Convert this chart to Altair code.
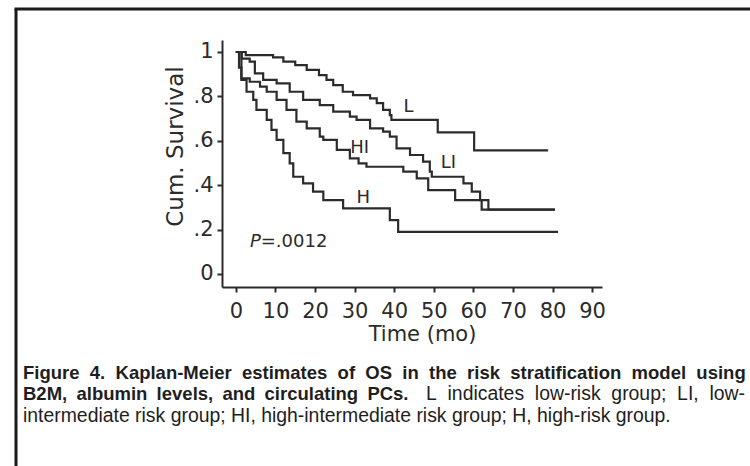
import altair as alt
import pandas as pd

# Kaplan-Meier step curves: event times (months) and cumulative survival
groups = ["L", "LI", "HI", "H"]

l_time = [0, 2.5, 9.4, 12.0, 15.0, 17.9, 21.0, 22.9, 24.6, 27.0, 29.6, 33.9, 35.6, 37.2, 38.9, 39.3, 51.0, 60.2, 78.9]
l_surv = [1.0, 0.986, 0.976, 0.957, 0.941, 0.919, 0.896, 0.874, 0.851, 0.821, 0.806, 0.791, 0.77, 0.739, 0.716, 0.694, 0.638, 0.557, 0.557]

li_time = [0, 1.5, 3.5, 4.8, 6.9, 10.3, 13.6, 17.0, 21.2, 24.6, 28.8, 30.5, 33.9, 37.2, 38.9, 40.6, 44.0, 47.3, 49.0, 49.5, 57.5, 59.6, 61.7, 63.8, 80.6]
li_surv = [1.0, 0.97, 0.957, 0.904, 0.874, 0.859, 0.821, 0.784, 0.761, 0.731, 0.709, 0.694, 0.656, 0.641, 0.619, 0.566, 0.536, 0.506, 0.461, 0.438, 0.408, 0.371, 0.333, 0.29, 0.29]

hi_time = [0, 0.8, 1.4, 3.5, 6.1, 7.8, 10.3, 12.8, 15.3, 17.9, 21.2, 22.1, 25.5, 28.8, 31.0, 33.0, 42.3, 45.7, 48.6, 55.4, 62.1, 80.6]
hi_surv = [1.0, 0.93, 0.881, 0.866, 0.844, 0.821, 0.784, 0.739, 0.686, 0.656, 0.619, 0.604, 0.559, 0.521, 0.498, 0.483, 0.461, 0.431, 0.378, 0.333, 0.29, 0.29]

h_time = [0, 1.4, 2.7, 4.4, 5.2, 7.8, 9.0, 10.3, 12.0, 13.6, 14.5, 17.0, 19.5, 22.1, 27.1, 38.9, 41.0, 81.4]
h_surv = [1.0, 0.874, 0.821, 0.784, 0.739, 0.694, 0.649, 0.604, 0.544, 0.498, 0.438, 0.408, 0.371, 0.333, 0.296, 0.243, 0.19, 0.19]

# Curve name annotations (data coordinates)
label_text = ["L", "HI", "LI", "H"]
label_x = [43.6, 31.3, 53.7, 32.2]
label_y = [0.751, 0.566, 0.499, 0.341]

p_value = ".0012"

x_ticks = list(range(0, 95, 5))
y_ticks = [0, 0.1, 0.2, 0.3, 0.4, 0.5, 0.6, 0.7, 0.8, 0.9, 1.0]

caption_line1 = "Figure 4. Kaplan-Meier estimates of OS in the risk stratification model using"
caption_line2_bold = "B2M, albumin levels, and circulating PCs."
caption_line2_rest = "L indicates low-risk group; LI, low-"
caption_line3 = "intermediate risk group; HI, high-intermediate risk group; H, high-risk group."

rows = []
for g, ts, ss in zip(groups, [l_time, li_time, hi_time, h_time], [l_surv, li_surv, hi_surv, h_surv]):
    for t, s in zip(ts, ss):
        rows.append({"group": g, "time": t, "surv": s})
curves = pd.DataFrame(rows)
labels = pd.DataFrame({"text": label_text, "x": label_x, "y": label_y})

AX_FONT = "DejaVu Sans"
INK = "#2b2b2b"
CAP_FONT = "Liberation Sans, Arial, sans-serif"

x_scale = alt.Scale(domain=[-3.5, 92.5], nice=False, zero=False)
y_scale = alt.Scale(domain=[-0.0586, 1.054], nice=False, zero=False)

x_axis = alt.Axis(
    values=x_ticks,
    labelExpr="datum.value % 10 == 0 ? datum.value : ''",
    tickSize={"condition": {"test": "datum.value % 10 == 0", "value": 5}, "value": 3},
    tickWidth=2, tickColor=INK, domainColor=INK, domainWidth=2,
    labelFont=AX_FONT, labelFontSize=21, labelColor=INK, labelPadding=8,
    labelFlush=False, labelOverlap=False, grid=False,
    title="Time (mo)", titleFont=AX_FONT, titleFontSize=21, titleFontWeight="normal",
    titleColor=INK, titleX=200, titleY=53, titleBaseline="alphabetic", titleAnchor="middle",
)
y_axis = alt.Axis(
    values=y_ticks,
    labelExpr="datum.value == 0 ? '0' : (datum.value > 0.99 ? '1' : (round(datum.value * 10) % 2 == 0 ? '.' + round(datum.value * 10) : ''))",
    tickSize={"condition": {"test": "round(datum.value * 10) % 2 == 0", "value": 5}, "value": 3},
    tickWidth=2, tickColor=INK, domainColor=INK, domainWidth=2,
    labelFont=AX_FONT, labelFontSize=21, labelColor=INK, labelPadding=4,
    labelFlush=False, labelOverlap=False, grid=False,
    title="Cum. Survival", titleFont=AX_FONT, titleFontSize=23, titleFontWeight="normal",
    titleColor=INK, titleX=-47, titleY=106, titleAngle=-90, titleBaseline="middle", titleAlign="center",
)

lines = alt.Chart(curves).mark_line(
    interpolate="step-after", color=INK, strokeWidth=2.2
).encode(
    x=alt.X("time:Q", scale=x_scale, axis=x_axis),
    y=alt.Y("surv:Q", scale=y_scale, axis=y_axis),
    detail="group:N",
)

curve_labels = alt.Chart(labels).mark_text(
    font=AX_FONT, fontSize=18, color=INK, align="center", baseline="middle"
).encode(
    x=alt.X("x:Q", scale=x_scale), y=alt.Y("y:Q", scale=y_scale), text="text:N"
)

p_df = pd.DataFrame({"x": [6.3], "y": [0.123], "p": ["P"], "v": ["=" + p_value]})
p_italic = alt.Chart(p_df).mark_text(
    font=AX_FONT, fontSize=18, fontStyle="italic", color=INK, align="right", baseline="alphabetic"
).encode(x=alt.X("x:Q", scale=x_scale), y=alt.Y("y:Q", scale=y_scale), text="p:N")
p_rest = alt.Chart(p_df).mark_text(
    font=AX_FONT, fontSize=18, color=INK, align="left", baseline="alphabetic"
).encode(x=alt.X("x:Q", scale=x_scale), y=alt.Y("y:Q", scale=y_scale), text="v:N")

# Figure frame (left and top edges), placed relative to the plot origin
frame_v = alt.Chart(p_df).mark_rule(color="#1a1a1a", strokeWidth=3).encode(
    x=alt.value(-206), y=alt.value(-31), y2=alt.value(500))
frame_h = alt.Chart(p_df).mark_rule(color="#1a1a1a", strokeWidth=3).encode(
    x=alt.value(-207.5), x2=alt.value(600), y=alt.value(-31))


def justify(text, gap):
    """Widen the word gaps with non-collapsing spaces (justified caption lines)."""
    return gap.join(text.split(" "))


def caption(text, x, y, bold, align="left", size=19.4):
    return alt.Chart(p_df).mark_text(
        font=CAP_FONT, fontSize=size, fontWeight="bold" if bold else "normal",
        color="#1e1e1e", align=align, baseline="alphabetic"
    ).encode(x=alt.value(x), y=alt.value(y), text=alt.value(text))


NBSP = "\u00a0"
EN = "\u2002"
cap = [
    caption(justify(caption_line1, NBSP * 2), -199, 339.3, True, size=18.5),
    caption(justify(caption_line2_bold, EN), -199, 360, True, size=18.5),
    caption(justify(caption_line2_rest, NBSP * 2), 523, 360, False, align="right"),
    caption(caption_line3, -199, 381.5, False),
]

chart = alt.layer(
    frame_v, frame_h, lines, curve_labels, p_italic, p_rest, *cap
).properties(
    width=380, height=247,
    autosize=alt.AutoSizeParams(type="none"),
    padding={"left": 222, "top": 40, "right": 148, "bottom": 179},
    background="white",
).configure_view(stroke=None)

chart.save("out.html", embed_options={"renderer": "svg", "actions": False})
